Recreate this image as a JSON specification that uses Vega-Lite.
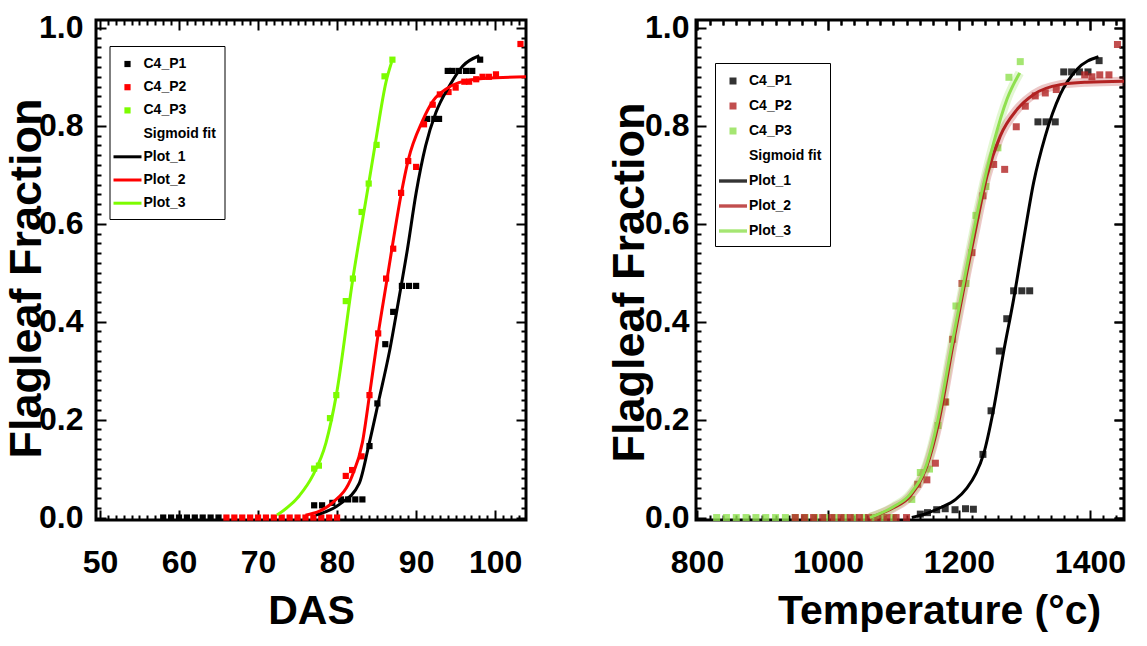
{
  "$schema": "https://vega.github.io/schema/vega-lite/v6.json",
  "background": "white",
  "padding": {"left": 3, "top": 10, "right": 0, "bottom": 0},
  "spacing": 72,
  "datasets": {
    "left_pts": [
      {"das": 58, "frac": 0.0, "s": "C4_P1"},
      {"das": 59, "frac": 0.0, "s": "C4_P1"},
      {"das": 60, "frac": 0.0, "s": "C4_P1"},
      {"das": 61, "frac": 0.0, "s": "C4_P1"},
      {"das": 62, "frac": 0.0, "s": "C4_P1"},
      {"das": 63, "frac": 0.0, "s": "C4_P1"},
      {"das": 64, "frac": 0.0, "s": "C4_P1"},
      {"das": 65, "frac": 0.0, "s": "C4_P1"},
      {"das": 77.1, "frac": 0.025, "s": "C4_P1"},
      {"das": 78.1, "frac": 0.025, "s": "C4_P1"},
      {"das": 79.4, "frac": 0.03, "s": "C4_P1"},
      {"das": 80.5, "frac": 0.037, "s": "C4_P1"},
      {"das": 81.4, "frac": 0.037, "s": "C4_P1"},
      {"das": 82.3, "frac": 0.037, "s": "C4_P1"},
      {"das": 83.2, "frac": 0.037, "s": "C4_P1"},
      {"das": 84.1, "frac": 0.146, "s": "C4_P1"},
      {"das": 85.1, "frac": 0.233, "s": "C4_P1"},
      {"das": 86.1, "frac": 0.354, "s": "C4_P1"},
      {"das": 87.1, "frac": 0.42, "s": "C4_P1"},
      {"das": 88.2, "frac": 0.473, "s": "C4_P1"},
      {"das": 89.1, "frac": 0.473, "s": "C4_P1"},
      {"das": 90.0, "frac": 0.473, "s": "C4_P1"},
      {"das": 91.4, "frac": 0.814, "s": "C4_P1"},
      {"das": 92.3, "frac": 0.814, "s": "C4_P1"},
      {"das": 92.9, "frac": 0.814, "s": "C4_P1"},
      {"das": 94.0, "frac": 0.912, "s": "C4_P1"},
      {"das": 94.6, "frac": 0.912, "s": "C4_P1"},
      {"das": 95.4, "frac": 0.912, "s": "C4_P1"},
      {"das": 96.3, "frac": 0.912, "s": "C4_P1"},
      {"das": 97.1, "frac": 0.912, "s": "C4_P1"},
      {"das": 98.1, "frac": 0.935, "s": "C4_P1"},
      {"das": 66, "frac": 0.0, "s": "C4_P2"},
      {"das": 67, "frac": 0.0, "s": "C4_P2"},
      {"das": 68, "frac": 0.0, "s": "C4_P2"},
      {"das": 69, "frac": 0.0, "s": "C4_P2"},
      {"das": 70, "frac": 0.0, "s": "C4_P2"},
      {"das": 71, "frac": 0.0, "s": "C4_P2"},
      {"das": 72, "frac": 0.0, "s": "C4_P2"},
      {"das": 73, "frac": 0.0, "s": "C4_P2"},
      {"das": 74, "frac": 0.0, "s": "C4_P2"},
      {"das": 75, "frac": 0.0, "s": "C4_P2"},
      {"das": 76, "frac": 0.0, "s": "C4_P2"},
      {"das": 77, "frac": 0.0, "s": "C4_P2"},
      {"das": 78, "frac": 0.0, "s": "C4_P2"},
      {"das": 79, "frac": 0.0, "s": "C4_P2"},
      {"das": 80, "frac": 0.0, "s": "C4_P2"},
      {"das": 81.1, "frac": 0.085, "s": "C4_P2"},
      {"das": 81.9, "frac": 0.097, "s": "C4_P2"},
      {"das": 83.1, "frac": 0.125, "s": "C4_P2"},
      {"das": 84.1, "frac": 0.25, "s": "C4_P2"},
      {"das": 85.2, "frac": 0.376, "s": "C4_P2"},
      {"das": 86.2, "frac": 0.488, "s": "C4_P2"},
      {"das": 87.1, "frac": 0.549, "s": "C4_P2"},
      {"das": 88.1, "frac": 0.663, "s": "C4_P2"},
      {"das": 89.0, "frac": 0.728, "s": "C4_P2"},
      {"das": 90.0, "frac": 0.716, "s": "C4_P2"},
      {"das": 91.0, "frac": 0.803, "s": "C4_P2"},
      {"das": 92.1, "frac": 0.843, "s": "C4_P2"},
      {"das": 93.0, "frac": 0.864, "s": "C4_P2"},
      {"das": 94.1, "frac": 0.869, "s": "C4_P2"},
      {"das": 95.0, "frac": 0.878, "s": "C4_P2"},
      {"das": 96.1, "frac": 0.89, "s": "C4_P2"},
      {"das": 96.7, "frac": 0.89, "s": "C4_P2"},
      {"das": 97.6, "frac": 0.895, "s": "C4_P2"},
      {"das": 98.4, "frac": 0.9, "s": "C4_P2"},
      {"das": 99.2, "frac": 0.9, "s": "C4_P2"},
      {"das": 100.1, "frac": 0.905, "s": "C4_P2"},
      {"das": 103.2, "frac": 0.967, "s": "C4_P2"},
      {"das": 77.1, "frac": 0.1, "s": "C4_P3"},
      {"das": 77.7, "frac": 0.106, "s": "C4_P3"},
      {"das": 79.1, "frac": 0.203, "s": "C4_P3"},
      {"das": 79.9, "frac": 0.25, "s": "C4_P3"},
      {"das": 81.1, "frac": 0.442, "s": "C4_P3"},
      {"das": 82.0, "frac": 0.488, "s": "C4_P3"},
      {"das": 83.1, "frac": 0.624, "s": "C4_P3"},
      {"das": 84.0, "frac": 0.682, "s": "C4_P3"},
      {"das": 85.0, "frac": 0.761, "s": "C4_P3"},
      {"das": 86.0, "frac": 0.901, "s": "C4_P3"},
      {"das": 87.0, "frac": 0.935, "s": "C4_P3"}
    ],
    "left_fit": [
      {"das": 77.3, "frac": 0.005, "s": "Plot_1"},
      {"das": 80.3, "frac": 0.027, "s": "Plot_1"},
      {"das": 82.8, "frac": 0.07, "s": "Plot_1"},
      {"das": 84.0, "frac": 0.147, "s": "Plot_1"},
      {"das": 85.3, "frac": 0.241, "s": "Plot_1"},
      {"das": 86.6, "frac": 0.337, "s": "Plot_1"},
      {"das": 87.8, "frac": 0.445, "s": "Plot_1"},
      {"das": 88.9, "frac": 0.548, "s": "Plot_1"},
      {"das": 90.0, "frac": 0.663, "s": "Plot_1"},
      {"das": 91.2, "frac": 0.759, "s": "Plot_1"},
      {"das": 92.5, "frac": 0.827, "s": "Plot_1"},
      {"das": 94.2, "frac": 0.881, "s": "Plot_1"},
      {"das": 95.9, "frac": 0.922, "s": "Plot_1"},
      {"das": 98.0, "frac": 0.943, "s": "Plot_1"},
      {"das": 76.0, "frac": 0.005, "s": "Plot_2"},
      {"das": 79.4, "frac": 0.03, "s": "Plot_2"},
      {"das": 81.9, "frac": 0.085, "s": "Plot_2"},
      {"das": 83.2, "frac": 0.153, "s": "Plot_2"},
      {"das": 84.1, "frac": 0.25, "s": "Plot_2"},
      {"das": 85.2, "frac": 0.375, "s": "Plot_2"},
      {"das": 86.2, "frac": 0.475, "s": "Plot_2"},
      {"das": 87.1, "frac": 0.565, "s": "Plot_2"},
      {"das": 88.1, "frac": 0.66, "s": "Plot_2"},
      {"das": 89.0, "frac": 0.73, "s": "Plot_2"},
      {"das": 90.8, "frac": 0.81, "s": "Plot_2"},
      {"das": 92.1, "frac": 0.85, "s": "Plot_2"},
      {"das": 93.8, "frac": 0.875, "s": "Plot_2"},
      {"das": 95.4, "frac": 0.888, "s": "Plot_2"},
      {"das": 98.8, "frac": 0.897, "s": "Plot_2"},
      {"das": 103.9, "frac": 0.9, "s": "Plot_2"},
      {"das": 72.4, "frac": 0.005, "s": "Plot_3"},
      {"das": 75.2, "frac": 0.044, "s": "Plot_3"},
      {"das": 76.9, "frac": 0.085, "s": "Plot_3"},
      {"das": 78.6, "frac": 0.153, "s": "Plot_3"},
      {"das": 79.9, "frac": 0.25, "s": "Plot_3"},
      {"das": 82.0, "frac": 0.488, "s": "Plot_3"},
      {"das": 84.0, "frac": 0.682, "s": "Plot_3"},
      {"das": 84.9, "frac": 0.77, "s": "Plot_3"},
      {"das": 86.2, "frac": 0.89, "s": "Plot_3"},
      {"das": 86.9, "frac": 0.93, "s": "Plot_3"}
    ],
    "right_pts": [
      {"t": 1141, "frac": 0.007, "s": "C4_P1"},
      {"t": 1152, "frac": 0.01, "s": "C4_P1"},
      {"t": 1166, "frac": 0.016, "s": "C4_P1"},
      {"t": 1179, "frac": 0.018, "s": "C4_P1"},
      {"t": 1194, "frac": 0.016, "s": "C4_P1"},
      {"t": 1210, "frac": 0.018, "s": "C4_P1"},
      {"t": 1222, "frac": 0.017, "s": "C4_P1"},
      {"t": 1236.6, "frac": 0.129, "s": "C4_P1"},
      {"t": 1249, "frac": 0.218, "s": "C4_P1"},
      {"t": 1261.6, "frac": 0.34, "s": "C4_P1"},
      {"t": 1273, "frac": 0.406, "s": "C4_P1"},
      {"t": 1283.5, "frac": 0.463, "s": "C4_P1"},
      {"t": 1296, "frac": 0.463, "s": "C4_P1"},
      {"t": 1308, "frac": 0.463, "s": "C4_P1"},
      {"t": 1320.6, "frac": 0.808, "s": "C4_P1"},
      {"t": 1333, "frac": 0.808, "s": "C4_P1"},
      {"t": 1347, "frac": 0.808, "s": "C4_P1"},
      {"t": 1360, "frac": 0.91, "s": "C4_P1"},
      {"t": 1372, "frac": 0.91, "s": "C4_P1"},
      {"t": 1384, "frac": 0.91, "s": "C4_P1"},
      {"t": 1397, "frac": 0.91, "s": "C4_P1"},
      {"t": 1414, "frac": 0.933, "s": "C4_P1"},
      {"t": 830, "frac": 0.0, "s": "C4_P3"},
      {"t": 845, "frac": 0.0, "s": "C4_P3"},
      {"t": 860, "frac": 0.0, "s": "C4_P3"},
      {"t": 875, "frac": 0.0, "s": "C4_P3"},
      {"t": 890, "frac": 0.0, "s": "C4_P3"},
      {"t": 905, "frac": 0.0, "s": "C4_P3"},
      {"t": 920, "frac": 0.0, "s": "C4_P3"},
      {"t": 935, "frac": 0.0, "s": "C4_P3"},
      {"t": 950, "frac": 0.0, "s": "C4_P3"},
      {"t": 965, "frac": 0.0, "s": "C4_P3"},
      {"t": 980, "frac": 0.0, "s": "C4_P3"},
      {"t": 995, "frac": 0.0, "s": "C4_P3"},
      {"t": 1010, "frac": 0.0, "s": "C4_P3"},
      {"t": 1025, "frac": 0.0, "s": "C4_P3"},
      {"t": 1040, "frac": 0.0, "s": "C4_P3"},
      {"t": 1055, "frac": 0.0, "s": "C4_P3"},
      {"t": 1070, "frac": 0.0, "s": "C4_P3"},
      {"t": 1085, "frac": 0.0, "s": "C4_P3"},
      {"t": 1100, "frac": 0.0, "s": "C4_P3"},
      {"t": 1128, "frac": 0.037, "s": "C4_P3"},
      {"t": 1141, "frac": 0.092, "s": "C4_P3"},
      {"t": 1155, "frac": 0.099, "s": "C4_P3"},
      {"t": 1168, "frac": 0.188, "s": "C4_P3"},
      {"t": 1180, "frac": 0.236, "s": "C4_P3"},
      {"t": 1195.4, "frac": 0.432, "s": "C4_P3"},
      {"t": 1210.7, "frac": 0.478, "s": "C4_P3"},
      {"t": 1226, "frac": 0.617, "s": "C4_P3"},
      {"t": 1241.2, "frac": 0.676, "s": "C4_P3"},
      {"t": 1259.5, "frac": 0.755, "s": "C4_P3"},
      {"t": 1276.3, "frac": 0.899, "s": "C4_P3"},
      {"t": 1293.6, "frac": 0.931, "s": "C4_P3"},
      {"t": 950, "frac": 0.0, "s": "C4_P2"},
      {"t": 964, "frac": 0.0, "s": "C4_P2"},
      {"t": 978, "frac": 0.0, "s": "C4_P2"},
      {"t": 992, "frac": 0.0, "s": "C4_P2"},
      {"t": 1006, "frac": 0.0, "s": "C4_P2"},
      {"t": 1020, "frac": 0.0, "s": "C4_P2"},
      {"t": 1034, "frac": 0.0, "s": "C4_P2"},
      {"t": 1048, "frac": 0.0, "s": "C4_P2"},
      {"t": 1062, "frac": 0.0, "s": "C4_P2"},
      {"t": 1076, "frac": 0.0, "s": "C4_P2"},
      {"t": 1090, "frac": 0.0, "s": "C4_P2"},
      {"t": 1104, "frac": 0.0, "s": "C4_P2"},
      {"t": 1120, "frac": 0.0, "s": "C4_P2"},
      {"t": 1137, "frac": 0.068, "s": "C4_P2"},
      {"t": 1151, "frac": 0.077, "s": "C4_P2"},
      {"t": 1164, "frac": 0.111, "s": "C4_P2"},
      {"t": 1179, "frac": 0.236, "s": "C4_P2"},
      {"t": 1190.3, "frac": 0.364, "s": "C4_P2"},
      {"t": 1204.6, "frac": 0.478, "s": "C4_P2"},
      {"t": 1219.8, "frac": 0.541, "s": "C4_P2"},
      {"t": 1236.6, "frac": 0.657, "s": "C4_P2"},
      {"t": 1253, "frac": 0.721, "s": "C4_P2"},
      {"t": 1269.8, "frac": 0.711, "s": "C4_P2"},
      {"t": 1287.5, "frac": 0.798, "s": "C4_P2"},
      {"t": 1301.3, "frac": 0.84, "s": "C4_P2"},
      {"t": 1316.5, "frac": 0.861, "s": "C4_P2"},
      {"t": 1331.8, "frac": 0.867, "s": "C4_P2"},
      {"t": 1348.6, "frac": 0.874, "s": "C4_P2"},
      {"t": 1392, "frac": 0.904, "s": "C4_P2"},
      {"t": 1403, "frac": 0.9, "s": "C4_P2"},
      {"t": 1415, "frac": 0.904, "s": "C4_P2"},
      {"t": 1429, "frac": 0.904, "s": "C4_P2"},
      {"t": 1442, "frac": 0.966, "s": "C4_P2"}
    ],
    "right_fit": [
      {"t": 1128, "frac": 0.0, "s": "Plot_1"},
      {"t": 1150, "frac": 0.008, "s": "Plot_1"},
      {"t": 1171.5, "frac": 0.02, "s": "Plot_1"},
      {"t": 1195, "frac": 0.037, "s": "Plot_1"},
      {"t": 1212, "frac": 0.06, "s": "Plot_1"},
      {"t": 1226, "frac": 0.09, "s": "Plot_1"},
      {"t": 1237.7, "frac": 0.13, "s": "Plot_1"},
      {"t": 1252, "frac": 0.215, "s": "Plot_1"},
      {"t": 1268, "frac": 0.337, "s": "Plot_1"},
      {"t": 1283.5, "frac": 0.446, "s": "Plot_1"},
      {"t": 1298.8, "frac": 0.568, "s": "Plot_1"},
      {"t": 1314, "frac": 0.684, "s": "Plot_1"},
      {"t": 1331.8, "frac": 0.779, "s": "Plot_1"},
      {"t": 1354.7, "frac": 0.864, "s": "Plot_1"},
      {"t": 1380, "frac": 0.915, "s": "Plot_1"},
      {"t": 1413, "frac": 0.941, "s": "Plot_1"},
      {"t": 1064, "frac": 0.0, "s": "Plot_2"},
      {"t": 1100, "frac": 0.02, "s": "Plot_2"},
      {"t": 1125.6, "frac": 0.044, "s": "Plot_2"},
      {"t": 1151, "frac": 0.105, "s": "Plot_2"},
      {"t": 1169, "frac": 0.194, "s": "Plot_2"},
      {"t": 1192, "frac": 0.361, "s": "Plot_2"},
      {"t": 1212, "frac": 0.5, "s": "Plot_2"},
      {"t": 1227.5, "frac": 0.602, "s": "Plot_2"},
      {"t": 1242.7, "frac": 0.697, "s": "Plot_2"},
      {"t": 1263, "frac": 0.779, "s": "Plot_2"},
      {"t": 1288.5, "frac": 0.833, "s": "Plot_2"},
      {"t": 1314, "frac": 0.864, "s": "Plot_2"},
      {"t": 1354.7, "frac": 0.884, "s": "Plot_2"},
      {"t": 1395, "frac": 0.889, "s": "Plot_2"},
      {"t": 1452, "frac": 0.891, "s": "Plot_2"},
      {"t": 1064, "frac": 0.0, "s": "Plot_3"},
      {"t": 1100, "frac": 0.022, "s": "Plot_3"},
      {"t": 1125.6, "frac": 0.048, "s": "Plot_3"},
      {"t": 1151, "frac": 0.11, "s": "Plot_3"},
      {"t": 1166.4, "frac": 0.19, "s": "Plot_3"},
      {"t": 1189.3, "frac": 0.354, "s": "Plot_3"},
      {"t": 1212.2, "frac": 0.514, "s": "Plot_3"},
      {"t": 1232.5, "frac": 0.65, "s": "Plot_3"},
      {"t": 1253, "frac": 0.765, "s": "Plot_3"},
      {"t": 1273.3, "frac": 0.854, "s": "Plot_3"},
      {"t": 1292.7, "frac": 0.908, "s": "Plot_3"}
    ]
  },
  "hconcat": [
    {
      "width": 430,
      "height": 500,
      "layer": [
        {
          "data": {"name": "left_pts"},
          "mark": {"type": "point", "filled": true, "size": 400, "opacity": 1, "strokeWidth": 0},
          "encoding": {
            "x": {"field": "das", "type": "quantitative",
              "scale": {"domain": [49.5, 103.9], "nice": false, "zero": false},
              "axis": {"orient": "bottom",
                "values": [50,51,52,53,54,55,56,57,58,59,60,61,62,63,64,65,66,67,68,69,70,71,72,73,74,75,76,77,78,79,80,81,82,83,84,85,86,87,88,89,90,91,92,93,94,95,96,97,98,99,100,101,102,103],
                "labelExpr": "datum.value % 10 === 0 ? datum.label : ''",
                "tickSize": {"condition": {"test": "datum.value % 10 === 0", "value": -10}, "value": -5},
                "labelPadding": 37,
                "title": "DAS", "titleFont": "Liberation Sans", "titleFontWeight": "bold", "titleFontSize": 41, "titlePadding": 8}},
            "y": {"field": "frac", "type": "quantitative",
              "scale": {"domain": [-0.005, 1.016], "nice": false, "zero": false},
              "axis": {"orient": "left",
                "values": [0,0.02,0.04,0.06,0.08,0.1,0.12,0.14,0.16,0.18,0.2,0.22,0.24,0.26,0.28,0.3,0.32,0.34,0.36,0.38,0.4,0.42,0.44,0.46,0.48,0.5,0.52,0.54,0.56,0.58,0.6,0.62,0.64,0.66,0.68,0.7,0.72,0.74,0.76,0.78,0.8,0.82,0.84,0.86,0.88,0.9,0.92,0.94,0.96,0.98,1],
                "labelExpr": "abs(datum.value*5 - round(datum.value*5)) < 0.01 ? format(datum.value, '.1f') : ''",
                "tickSize": {"condition": {"test": "abs(datum.value*5 - round(datum.value*5)) < 0.01", "value": -10}, "value": -5},
                "labelPadding": 23,
                "title": "Flagleaf Fraction", "titleFont": "Liberation Sans", "titleFontWeight": "bold", "titleFontSize": 45, "titlePadding": -11, "titleY": 258}},
            "color": {"field": "s", "type": "nominal",
              "scale": {"domain": ["C4_P1","C4_P2","C4_P3","Sigmoid fit","Plot_1","Plot_2","Plot_3"], "range": ["black","#ff0000","#7cfc00","white","black","#ff0000","#7cfc00"]},
              "legend": {"orient": "none", "legendX": 13.5, "legendY": 26, "title": null,
                "strokeColor": "black", "padding": 8, "symbolSize": 400, "symbolStrokeWidth": 0, "rowPadding": 6.2, "labelOffset": 6,
                "labelFont": "Liberation Sans", "labelFontWeight": "bold", "labelFontSize": 14, "labelColor": "black"}},
            "shape": {"field": "s", "type": "nominal",
              "scale": {"domain": ["C4_P1","C4_P2","C4_P3","Sigmoid fit","Plot_1","Plot_2","Plot_3"],
                "range": ["M-0.31,-0.31H0.31V0.31H-0.31Z","M-0.31,-0.31H0.31V0.31H-0.31Z","M-0.31,-0.31H0.31V0.31H-0.31Z","M-0.31,-0.31H0.31V0.31H-0.31Z","M-1.4,-0.15H1.4V0.15H-1.4Z","M-1.4,-0.15H1.4V0.15H-1.4Z","M-1.4,-0.15H1.4V0.15H-1.4Z"]},
              "legend": {"orient": "none", "legendX": 13.5, "legendY": 26, "title": null,
                "strokeColor": "black", "padding": 8, "symbolSize": 400, "symbolStrokeWidth": 0, "rowPadding": 6.2, "labelOffset": 6,
                "labelFont": "Liberation Sans", "labelFontWeight": "bold", "labelFontSize": 14, "labelColor": "black"}}
          }
        },
        {
          "data": {"name": "left_fit"},
          "mark": {"type": "line", "strokeWidth": 3, "interpolate": "monotone"},
          "encoding": {
            "x": {"field": "das", "type": "quantitative",
              "scale": {"domain": [49.5, 103.9], "nice": false, "zero": false},
              "axis": {"orient": "top", "labels": false, "title": null,
                "values": [50,51,52,53,54,55,56,57,58,59,60,61,62,63,64,65,66,67,68,69,70,71,72,73,74,75,76,77,78,79,80,81,82,83,84,85,86,87,88,89,90,91,92,93,94,95,96,97,98,99,100,101,102,103],
                "tickSize": {"condition": {"test": "datum.value % 10 === 0", "value": -10}, "value": -5}}},
            "y": {"field": "frac", "type": "quantitative",
              "scale": {"domain": [-0.005, 1.016], "nice": false, "zero": false},
              "axis": {"orient": "right", "labels": false, "title": null,
                "values": [0,0.02,0.04,0.06,0.08,0.1,0.12,0.14,0.16,0.18,0.2,0.22,0.24,0.26,0.28,0.3,0.32,0.34,0.36,0.38,0.4,0.42,0.44,0.46,0.48,0.5,0.52,0.54,0.56,0.58,0.6,0.62,0.64,0.66,0.68,0.7,0.72,0.74,0.76,0.78,0.8,0.82,0.84,0.86,0.88,0.9,0.92,0.94,0.96,0.98,1],
                "tickSize": {"condition": {"test": "abs(datum.value*5 - round(datum.value*5)) < 0.01", "value": -10}, "value": -5}}},
            "color": {"field": "s", "type": "nominal",
              "scale": {"domain": ["C4_P1","C4_P2","C4_P3","Sigmoid fit","Plot_1","Plot_2","Plot_3"], "range": ["black","#ff0000","#7cfc00","white","black","#ff0000","#7cfc00"]},
              "legend": {"orient": "none", "legendX": 13.5, "legendY": 26, "title": null,
                "strokeColor": "black", "padding": 8, "symbolSize": 400, "symbolStrokeWidth": 0, "rowPadding": 6.2, "labelOffset": 6,
                "labelFont": "Liberation Sans", "labelFontWeight": "bold", "labelFontSize": 14, "labelColor": "black"}}
          }
        }
      ],
      "resolve": {"axis": {"x": "independent", "y": "independent"}}
    },
    {
      "width": 428,
      "height": 500,
      "layer": [
        {
          "data": {"name": "right_pts"},
          "mark": {"type": "point", "filled": true, "size": 400, "opacity": 0.8, "strokeWidth": 0},
          "encoding": {
            "x": {"field": "t", "type": "quantitative",
              "scale": {"domain": [798.5, 1452], "nice": false, "zero": false},
              "axis": {"orient": "bottom",
                "values": [800,820,840,860,880,900,920,940,960,980,1000,1020,1040,1060,1080,1100,1120,1140,1160,1180,1200,1220,1240,1260,1280,1300,1320,1340,1360,1380,1400,1420,1440],
                "labelExpr": "datum.value % 200 === 0 ? format(datum.value, 'd') : ''",
                "tickSize": {"condition": {"test": "datum.value % 200 === 0", "value": -10}, "value": -5},
                "labelPadding": 37,
                "title": "Temperature (°c)", "titleFont": "Liberation Sans", "titleFontWeight": "bold", "titleFontSize": 41, "titlePadding": 8, "titleX": 243}},
            "y": {"field": "frac", "type": "quantitative",
              "scale": {"domain": [-0.005, 1.016], "nice": false, "zero": false},
              "axis": {"orient": "left",
                "values": [0,0.02,0.04,0.06,0.08,0.1,0.12,0.14,0.16,0.18,0.2,0.22,0.24,0.26,0.28,0.3,0.32,0.34,0.36,0.38,0.4,0.42,0.44,0.46,0.48,0.5,0.52,0.54,0.56,0.58,0.6,0.62,0.64,0.66,0.68,0.7,0.72,0.74,0.76,0.78,0.8,0.82,0.84,0.86,0.88,0.9,0.92,0.94,0.96,0.98,1],
                "labelExpr": "abs(datum.value*5 - round(datum.value*5)) < 0.01 ? format(datum.value, '.1f') : ''",
                "tickSize": {"condition": {"test": "abs(datum.value*5 - round(datum.value*5)) < 0.01", "value": -10}, "value": -5},
                "labelPadding": 17,
                "title": "Flagleaf Fraction", "titleFont": "Liberation Sans", "titleFontWeight": "bold", "titleFontSize": 45, "titlePadding": -8, "titleY": 262}},
            "color": {"field": "s", "type": "nominal",
              "scale": {"domain": ["C4_P1","C4_P2","C4_P3","Sigmoid fit","Plot_1","Plot_2","Plot_3"], "range": ["black","#b22222","#8fe04f","white","black","#b22222","#8fe04f"]},
              "legend": {"orient": "none", "legendX": 19, "legendY": 43, "title": null,
                "strokeColor": "black", "padding": 8, "symbolSize": 400, "symbolStrokeWidth": 0, "rowPadding": 8, "labelOffset": 6,
                "labelFont": "Liberation Sans", "labelFontWeight": "bold", "labelFontSize": 14, "labelColor": "black"}},
            "shape": {"field": "s", "type": "nominal",
              "scale": {"domain": ["C4_P1","C4_P2","C4_P3","Sigmoid fit","Plot_1","Plot_2","Plot_3"],
                "range": ["M-0.35,-0.35H0.35V0.35H-0.35Z","M-0.35,-0.35H0.35V0.35H-0.35Z","M-0.35,-0.35H0.35V0.35H-0.35Z","M-0.35,-0.35H0.35V0.35H-0.35Z","M-1.4,-0.17H1.4V0.17H-1.4Z","M-1.4,-0.17H1.4V0.17H-1.4Z","M-1.4,-0.17H1.4V0.17H-1.4Z"]},
              "legend": {"orient": "none", "legendX": 19, "legendY": 43, "title": null,
                "strokeColor": "black", "padding": 8, "symbolSize": 400, "symbolStrokeWidth": 0, "rowPadding": 8, "labelOffset": 6,
                "labelFont": "Liberation Sans", "labelFontWeight": "bold", "labelFontSize": 14, "labelColor": "black"}}
          }
        },
        {
          "data": {"name": "right_fit"},
          "transform": [{"filter": "datum.s !== 'Plot_1'"}],
          "mark": {"type": "line", "strokeWidth": 9, "opacity": 0.25, "interpolate": "monotone"},
          "encoding": {
            "x": {"field": "t", "type": "quantitative",
              "scale": {"domain": [798.5, 1452], "nice": false, "zero": false},
              "axis": {"orient": "top", "labels": false, "title": null,
                "values": [800,820,840,860,880,900,920,940,960,980,1000,1020,1040,1060,1080,1100,1120,1140,1160,1180,1200,1220,1240,1260,1280,1300,1320,1340,1360,1380,1400,1420,1440],
                "tickSize": {"condition": {"test": "datum.value % 200 === 0", "value": -10}, "value": -5}}},
            "y": {"field": "frac", "type": "quantitative",
              "scale": {"domain": [-0.005, 1.016], "nice": false, "zero": false},
              "axis": {"orient": "right", "labels": false, "title": null,
                "values": [0,0.02,0.04,0.06,0.08,0.1,0.12,0.14,0.16,0.18,0.2,0.22,0.24,0.26,0.28,0.3,0.32,0.34,0.36,0.38,0.4,0.42,0.44,0.46,0.48,0.5,0.52,0.54,0.56,0.58,0.6,0.62,0.64,0.66,0.68,0.7,0.72,0.74,0.76,0.78,0.8,0.82,0.84,0.86,0.88,0.9,0.92,0.94,0.96,0.98,1],
                "tickSize": {"condition": {"test": "abs(datum.value*5 - round(datum.value*5)) < 0.01", "value": -10}, "value": -5}}},
            "color": {"field": "s", "type": "nominal",
              "scale": {"domain": ["C4_P1","C4_P2","C4_P3","Sigmoid fit","Plot_1","Plot_2","Plot_3"], "range": ["black","#b22222","#8fe04f","white","black","#b22222","#8fe04f"]},
              "legend": {"orient": "none", "legendX": 19, "legendY": 43, "title": null,
                "strokeColor": "black", "padding": 8, "symbolSize": 400, "symbolStrokeWidth": 0, "rowPadding": 8, "labelOffset": 6,
                "labelFont": "Liberation Sans", "labelFontWeight": "bold", "labelFontSize": 14, "labelColor": "black"}}
          }
        },
        {
          "data": {"name": "right_fit"},
          "mark": {"type": "line", "strokeWidth": 3, "interpolate": "monotone"},
          "encoding": {
            "x": {"field": "t", "type": "quantitative",
              "scale": {"domain": [798.5, 1452], "nice": false, "zero": false},
              "axis": {"orient": "top", "labels": false, "title": null,
                "values": [800,820,840,860,880,900,920,940,960,980,1000,1020,1040,1060,1080,1100,1120,1140,1160,1180,1200,1220,1240,1260,1280,1300,1320,1340,1360,1380,1400,1420,1440],
                "tickSize": {"condition": {"test": "datum.value % 200 === 0", "value": -10}, "value": -5}}},
            "y": {"field": "frac", "type": "quantitative",
              "scale": {"domain": [-0.005, 1.016], "nice": false, "zero": false},
              "axis": {"orient": "right", "labels": false, "title": null,
                "values": [0,0.02,0.04,0.06,0.08,0.1,0.12,0.14,0.16,0.18,0.2,0.22,0.24,0.26,0.28,0.3,0.32,0.34,0.36,0.38,0.4,0.42,0.44,0.46,0.48,0.5,0.52,0.54,0.56,0.58,0.6,0.62,0.64,0.66,0.68,0.7,0.72,0.74,0.76,0.78,0.8,0.82,0.84,0.86,0.88,0.9,0.92,0.94,0.96,0.98,1],
                "tickSize": {"condition": {"test": "abs(datum.value*5 - round(datum.value*5)) < 0.01", "value": -10}, "value": -5}}},
            "color": {"field": "s", "type": "nominal",
              "scale": {"domain": ["C4_P1","C4_P2","C4_P3","Sigmoid fit","Plot_1","Plot_2","Plot_3"], "range": ["black","#b22222","#8fe04f","white","black","#b22222","#8fe04f"]},
              "legend": {"orient": "none", "legendX": 19, "legendY": 43, "title": null,
                "strokeColor": "black", "padding": 8, "symbolSize": 400, "symbolStrokeWidth": 0, "rowPadding": 8, "labelOffset": 6,
                "labelFont": "Liberation Sans", "labelFontWeight": "bold", "labelFontSize": 14, "labelColor": "black"}}
          }
        }
      ],
      "resolve": {"axis": {"x": "independent", "y": "independent"}}
    }
  ],
  "resolve": {"scale": {"color": "independent", "shape": "independent"}, "legend": {"color": "independent", "shape": "independent"}},
  "config": {
    "view": {"stroke": "black", "strokeWidth": 3},
    "axis": {"grid": false, "domain": false, "tickColor": "black", "tickWidth": 2,
      "labelFont": "Liberation Sans", "labelFontWeight": "bold", "labelFontSize": 32, "labelColor": "black",
      "labelOverlap": false, "labelFlush": false, "labelBound": false, "titleColor": "black"}
  }
}
